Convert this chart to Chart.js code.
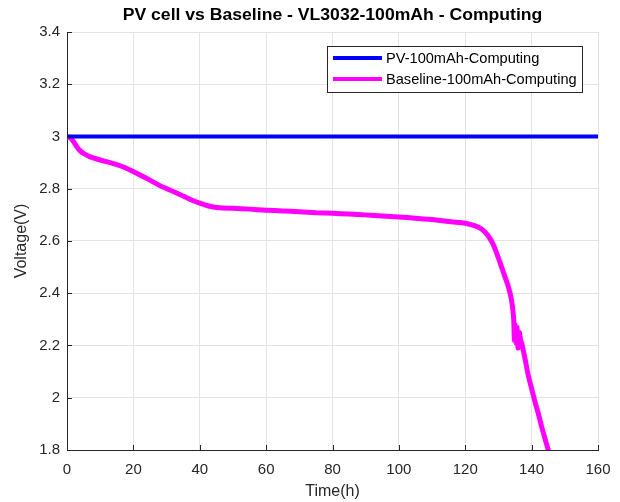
<!DOCTYPE html>
<html>
<head>
<meta charset="utf-8">
<script src="https://cdn.jsdelivr.net/npm/chart.js@4"></script>
<style>
  html, body { margin: 0; padding: 0; background: #fff; }
  #wrap { width: 620px; height: 502px; }
</style>
</head>
<body>
<div id="wrap"><canvas id="voltChart" width="620" height="502"></canvas></div>
<script>
const chartTitle = "PV cell vs Baseline - VL3032-100mAh - Computing";
const seriesNames = ["PV-100mAh-Computing", "Baseline-100mAh-Computing"];

const pvTime = [0, 160];
const pvVolt = [3.0, 3.0];

const baseTime = [0, 1, 2, 3, 4, 5, 7, 10, 13, 16, 19, 22, 25, 28, 31, 34, 37, 40, 43, 46,
  50, 55, 60, 65, 70, 75, 80, 85, 90, 95, 100, 105, 110, 115, 118, 120, 122, 124, 125.5,
  127, 128.5, 130, 131.5, 133, 134, 134.6, 134.8, 135.0, 135.3, 135.6, 135.9, 136.3, 136.7,
  137, 138, 139, 140, 141, 142, 143, 144, 145, 145.5];
const baseVolt = [3.0, 2.995, 2.98, 2.96, 2.945, 2.935, 2.922, 2.91, 2.9, 2.888, 2.872, 2.853,
  2.833, 2.812, 2.795, 2.778, 2.76, 2.745, 2.733, 2.727, 2.725, 2.722, 2.718, 2.715, 2.712,
  2.708, 2.706, 2.703, 2.7, 2.696, 2.692, 2.687, 2.682, 2.675, 2.671, 2.668, 2.662, 2.653,
  2.64, 2.618, 2.585, 2.535, 2.48, 2.425, 2.37, 2.30, 2.22, 2.28, 2.21, 2.27, 2.19, 2.25,
  2.22, 2.21, 2.15, 2.085, 2.035, 1.985, 1.94, 1.89, 1.845, 1.80, 1.78];

const xTicks = [0, 20, 40, 60, 80, 100, 120, 140, 160];
const yTicks = [1.8, 2, 2.2, 2.4, 2.6, 2.8, 3, 3.2, 3.4];

const fontFam = "'Liberation Sans', Arial, sans-serif";
const textColor = "#262626";

function toPoints(xs, ys) {
  return xs.map((x, i) => ({ x: x, y: ys[i] }));
}

// matlab style: inward ticks, title over plot, legend box inside the axes
const matlabBits = {
  id: "matlabBits",
  afterDatasetsDraw(chart) {
    const ctx = chart.ctx;
    const a = chart.chartArea;
    const xs = chart.scales.x;
    const ys = chart.scales.y;
    ctx.save();
    ctx.strokeStyle = textColor;
    ctx.lineWidth = 1;
    ctx.beginPath();
    xTicks.forEach((t) => {
      const px = Math.round(xs.getPixelForValue(t)) + 0.5;
      ctx.moveTo(px, a.bottom);
      ctx.lineTo(px, a.bottom - 5);
    });
    yTicks.forEach((t) => {
      const py = Math.round(ys.getPixelForValue(t)) + 0.5;
      ctx.moveTo(a.left, py);
      ctx.lineTo(a.left + 5, py);
    });
    ctx.stroke();

    // legend
    const lx = 327, ly = 46, lw = 255, lh = 46;
    ctx.fillStyle = "#fff";
    ctx.fillRect(lx, ly, lw, lh);
    ctx.strokeStyle = "#262626";
    ctx.strokeRect(lx + 0.5, ly + 0.5, lw, lh);
    const colors = ["#0000ff", "#ff00ff"];
    const rows = [58, 79];
    ctx.font = "14.6px " + fontFam;
    ctx.textBaseline = "middle";
    ctx.textAlign = "left";
    seriesNames.forEach((name, i) => {
      ctx.strokeStyle = colors[i];
      ctx.lineWidth = 4;
      ctx.beginPath();
      ctx.moveTo(333, rows[i]);
      ctx.lineTo(382, rows[i]);
      ctx.stroke();
      ctx.fillStyle = "#000";
      ctx.fillText(name, 386, rows[i] + 1);
    });

    // title, a bit wider like the matlab render
    ctx.font = "bold 16px " + fontFam;
    ctx.fillStyle = "#000";
    ctx.textAlign = "center";
    ctx.translate((a.left + a.right) / 2, 16);
    ctx.scale(1.1, 1);
    ctx.fillText(chartTitle, 0, 0);
    ctx.restore();
  },
};

const ctx = document.getElementById("voltChart").getContext("2d");
new Chart(ctx, {
  type: "line",
  data: {
    datasets: [
      {
        label: seriesNames[0],
        data: toPoints(pvTime, pvVolt),
        borderColor: "#0000ff",
        borderWidth: 4,
        pointRadius: 0,
        tension: 0,
      },
      {
        label: seriesNames[1],
        data: toPoints(baseTime, baseVolt),
        borderColor: "#ff00ff",
        borderWidth: 5,
        pointRadius: 0,
        tension: 0.2,
        borderJoinStyle: "round",
      },
    ],
  },
  options: {
    responsive: false,
    animation: false,
    layout: { padding: { top: 32, right: 22, left: 0, bottom: 0 } },
    plugins: {
      legend: { display: false },
      title: { display: false },
      tooltip: { enabled: false },
    },
    scales: {
      x: {
        type: "linear",
        min: 0,
        max: 160,
        afterBuildTicks: (scale) => {
          scale.ticks = xTicks.map((v) => ({ value: v }));
        },
        afterFit: (scale) => {
          scale.height = 52;
          scale.paddingLeft = 0;
          scale.paddingRight = 0;
        },
        grid: { color: "#e3e3e3", drawTicks: false },
        border: { color: textColor, width: 1 },
        ticks: {
          color: textColor,
          font: { family: fontFam, size: 15 },
          padding: 11,
          maxRotation: 0,
        },
        title: {
          display: true,
          text: "Time(h)",
          color: textColor,
          font: { family: fontFam, size: 16 },
          padding: { top: 0, bottom: 1 },
        },
      },
      y: {
        type: "linear",
        min: 1.8,
        max: 3.4,
        afterBuildTicks: (scale) => {
          scale.ticks = yTicks.map((v) => ({ value: v }));
        },
        afterFit: (scale) => {
          scale.width = 67;
        },
        grid: { color: "#e3e3e3", drawTicks: false },
        border: { color: textColor, width: 1 },
        ticks: {
          color: textColor,
          font: { family: fontFam, size: 15 },
          padding: 7,
          callback: (v) => String(+Number(v).toFixed(1)),
        },
        title: {
          display: true,
          text: "Voltage(V)",
          color: textColor,
          font: { family: fontFam, size: 16 },
          padding: { top: 12, bottom: 0 },
        },
      },
    },
  },
  plugins: [matlabBits],
});
</script>
</body>
</html>
